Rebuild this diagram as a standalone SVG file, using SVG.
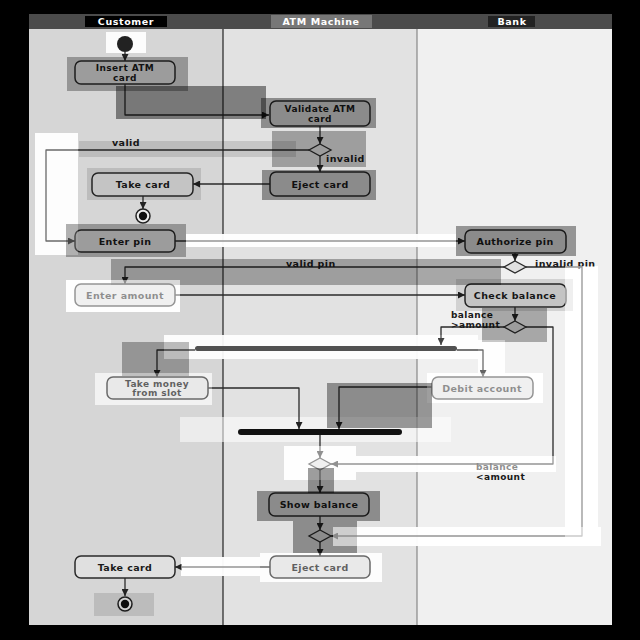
<svg xmlns="http://www.w3.org/2000/svg" width="640" height="640" viewBox="0 0 640 640">
<style>
.node rect{fill:#e0e0e0;stroke:#2a2a2a;stroke-width:1.5}
.node text,.lbl{font-family:"DejaVu Sans",sans-serif;font-weight:bold;font-size:9.5px;fill:#1a1a1a;letter-spacing:0.4px}
.node text.two,.lbl.two{font-size:9px}
.node text{text-anchor:middle}
.hdr{font-family:"DejaVu Sans",sans-serif;font-weight:bold;font-size:9.5px;fill:#fff;text-anchor:middle;letter-spacing:0.6px}
.dia{fill:#e0e0e0;stroke:#2a2a2a;stroke-width:1.3}
#connectors path{fill:none;stroke:#2a2a2a;stroke-width:1.3;stroke-linejoin:round}
.k1{fill:#000;opacity:0.3}
.k2{fill:#000;opacity:0.38}
.k3{fill:#000;opacity:0.44}
.kl{fill:#000;opacity:0.12}
.wb{fill:#fff;opacity:0.92}
.wb2{fill:#fff;opacity:0.55}
.wo{fill:#fff;opacity:0.5}
.wo2{fill:#fff;opacity:0.3}
.wo3{fill:#fff;opacity:0.15}
</style>
<defs>
<marker id="arr" viewBox="0 0 10 10" refX="10" refY="5" markerWidth="8" markerHeight="7" markerUnits="userSpaceOnUse" orient="auto">
<path d="M0,0 L10,5 L0,10 z" fill="#222"/>
</marker>
</defs>
<rect x="0" y="0" width="640" height="640" fill="#000"/>
<g id="lanes">
<rect x="29" y="14" width="583" height="611" fill="#f0f0f0"/>
<rect x="29" y="29" width="194" height="596" fill="#d6d6d6"/>
<rect x="223" y="29" width="194" height="596" fill="#e2e2e2"/>
<rect x="417" y="29" width="195" height="596" fill="#f0f0f0"/>
<rect x="29" y="14" width="583" height="15" fill="#4b4b4b"/>
<rect x="85" y="16" width="82" height="11" fill="#000"/>
<rect x="271" y="15" width="101" height="13" fill="#777"/>
<rect x="488" y="16" width="47" height="11" fill="#222"/>
<line x1="223" y1="29" x2="223" y2="625" stroke="#222" stroke-width="1.2"/>
<line x1="417" y1="29" x2="417" y2="625" stroke="#888" stroke-width="1.2"/>
<text class="hdr" x="126" y="25">Customer</text>
<text class="hdr" x="321" y="25">ATM Machine</text>
<text class="hdr" x="512" y="25">Bank</text>
</g>
<g id="bg-patches">
<rect class="wb" x="106" y="32" width="40" height="21"/>
<rect class="wb" x="35" y="133" width="43" height="122"/>
<rect class="wb" x="186" y="234" width="270" height="13"/>
<rect class="wb" x="66" y="280" width="114" height="32"/>
<rect class="wb" x="565" y="266" width="33" height="279"/>
<rect class="wb" x="164" y="335" width="314" height="24"/>
<rect class="wb" x="478" y="340" width="27" height="33"/>
<rect class="wb2" x="95" y="373" width="117" height="32"/>
<rect class="wb" x="427" y="373" width="116" height="30"/>
<rect class="wb2" x="180" y="417" width="271" height="25"/>
<rect class="wb" x="284" y="446" width="72" height="34"/>
<rect class="wb" x="356" y="456" width="200" height="16"/>
<rect class="wb" x="333" y="527" width="268" height="19"/>
<rect class="wb" x="260" y="553" width="122" height="29"/>
<rect class="wb" x="181" y="557" width="79" height="19"/>
</g>
<g id="connectors">
<path d="M125,52 V61" marker-end="url(#arr)"/>
<path d="M125,84 V115 H269" marker-end="url(#arr)"/>
<path d="M320,126 V144" marker-end="url(#arr)"/>
<path d="M309,150 H46 V241 H75" marker-end="url(#arr)"/>
<path d="M320,156 V172" marker-end="url(#arr)"/>
<path d="M270,184 H193" marker-end="url(#arr)"/>
<path d="M143,196 V209" marker-end="url(#arr)"/>
<path d="M175,241 H465" marker-end="url(#arr)"/>
<path d="M515,253 V261" marker-end="url(#arr)"/>
<path d="M504,267 H125 V284" marker-end="url(#arr)"/>
<path d="M526,267 H582 V536 H331" marker-end="url(#arr)"/>
<path d="M175,295 H465" marker-end="url(#arr)"/>
<path d="M515,307 V321" marker-end="url(#arr)"/>
<path d="M504,327 H441 V345" marker-end="url(#arr)"/>
<path d="M526,327 H553 V464 H331" marker-end="url(#arr)"/>
<path d="M195,350 H157 V377" marker-end="url(#arr)"/>
<path d="M457,350 H483 V377" marker-end="url(#arr)"/>
<path d="M208,388 H299 V429" marker-end="url(#arr)"/>
<path d="M432,387 H339 V429" marker-end="url(#arr)"/>
<path d="M320,435 V458" marker-end="url(#arr)"/>
<path d="M320,470 V493" marker-end="url(#arr)"/>
<path d="M320,516 V530" marker-end="url(#arr)"/>
<path d="M320,542 V556" marker-end="url(#arr)"/>
<path d="M270,567 H175" marker-end="url(#arr)"/>
<path d="M125,578 V596" marker-end="url(#arr)"/>
<text class="lbl" x="112" y="146">valid</text>
<text class="lbl" x="326" y="162">invalid</text>
<text class="lbl" x="286" y="266.5">valid pin</text>
<text class="lbl" x="535" y="266.5">invalid pin</text>
<text class="lbl two" x="451" y="318">balance</text>
<text class="lbl two" x="451" y="328">&gt;amount</text>
<text class="lbl two" x="476" y="470">balance</text>
<text class="lbl two" x="476" y="480">&lt;amount</text>
</g>
<g id="start"><circle cx="125" cy="44" r="8" fill="#222"/></g>
<g id="insert-card" class="node"><rect x="75" y="61" width="100" height="23" rx="6"/><text class="two" x="125" y="70.5">Insert ATM</text><text class="two" x="125" y="80.5">card</text></g>
<g id="validate-card" class="node"><rect x="270" y="101" width="100" height="25" rx="6"/><text class="two" x="320" y="111.5">Validate ATM</text><text class="two" x="320" y="121.5">card</text></g>
<g id="decision-card"><polygon class="dia" points="320,144 331,150 320,156 309,150"/></g>
<g id="eject-card-1" class="node"><rect x="270" y="172" width="100" height="24" rx="6"/><text x="320" y="187.5">Eject card</text></g>
<g id="take-card-1" class="node"><rect x="92" y="173" width="101" height="23" rx="6"/><text x="143" y="188">Take card</text></g>
<g id="end-1"><circle cx="143" cy="216" r="7" fill="#eee" stroke="#222" stroke-width="1.5"/><circle cx="143" cy="216" r="4.2" fill="#111"/></g>
<g id="enter-pin" class="node"><rect x="75" y="230" width="100" height="22" rx="6"/><text x="125" y="244.5">Enter pin</text></g>
<g id="authorize-pin" class="node"><rect x="465" y="230" width="101" height="23" rx="6"/><text x="515" y="245">Authorize pin</text></g>
<g id="decision-pin"><polygon class="dia" points="515,261 526,267 515,273 504,267"/></g>
<g id="enter-amount" class="node"><rect x="75" y="284" width="100" height="22" rx="6"/><text x="125" y="298.5">Enter amount</text></g>
<g id="check-balance" class="node"><rect x="465" y="284" width="101" height="23" rx="6"/><text x="515" y="299">Check balance</text></g>
<g id="decision-balance"><polygon class="dia" points="515,321 526,327 515,333 504,327"/></g>
<g id="fork"><rect x="195" y="346" width="262" height="5" rx="2.5" fill="#333"/></g>
<g id="take-money" class="node"><rect x="107" y="377" width="101" height="22" rx="6"/><text class="two" x="157" y="386.5">Take money</text><text class="two" x="157" y="396">from slot</text></g>
<g id="debit-account" class="node"><rect x="432" y="377" width="101" height="22" rx="6"/><text x="482" y="391.5">Debit account</text></g>
<g id="join"><rect x="238" y="429" width="164" height="6" rx="3" fill="#111"/></g>
<g id="merge-balance"><polygon class="dia" points="320,458 331,464 320,470 309,464"/></g>
<g id="show-balance" class="node"><rect x="269" y="493" width="100" height="23" rx="6"/><text x="319" y="508">Show balance</text></g>
<g id="merge-final"><polygon class="dia" points="320,530 331,536 320,542 309,536"/></g>
<g id="eject-card-2" class="node"><rect x="270" y="556" width="100" height="22" rx="6"/><text x="320" y="570.5">Eject card</text></g>
<g id="take-card-2" class="node"><rect x="75" y="556" width="100" height="22" rx="6"/><text x="125" y="570.5">Take card</text></g>
<g id="end-2"><circle cx="125" cy="604" r="7" fill="#eee" stroke="#222" stroke-width="1.5"/><circle cx="125" cy="604" r="4.2" fill="#111"/></g>
<g id="patches">
<rect class="k1" x="67" y="57" width="121" height="34"/>
<rect class="k3" x="116" y="86" width="150" height="33"/>
<rect class="k2" x="261" y="98" width="115" height="30"/>
<rect class="kl" x="79" y="141" width="217" height="16"/>
<rect class="k1" x="272" y="131" width="94" height="36"/>
<rect class="wo2" x="35" y="133" width="43" height="122"/>
<rect class="k2" x="262" y="170" width="114" height="30"/>
<rect class="kl" x="87" y="168" width="114" height="32"/>
<rect class="k1" x="66" y="224" width="120" height="33"/>
<rect class="wo" x="186" y="234" width="270" height="13"/>
<rect class="k2" x="456" y="226" width="120" height="30"/>
<rect class="k1" x="111" y="259" width="390" height="26"/>
<rect class="wo" x="66" y="280" width="114" height="32"/>
<rect class="kl" x="456" y="279" width="117" height="32"/>
<rect class="k1" x="482" y="308" width="65" height="34"/>
<rect class="wo" x="565" y="266" width="33" height="279"/>
<rect class="k1" x="122" y="342" width="67" height="34"/>
<rect class="wo3" x="164" y="335" width="314" height="24"/>
<rect class="wo2" x="478" y="340" width="27" height="33"/>
<rect class="wo2" x="95" y="373" width="117" height="32"/>
<rect class="wo" x="427" y="373" width="116" height="30"/>
<rect class="k2" x="327" y="383" width="105" height="45"/>
<rect class="wo" x="284" y="446" width="72" height="34"/>
<rect class="wo" x="356" y="456" width="200" height="16"/>
<rect class="k2" x="308" y="468" width="26" height="25"/>
<rect class="k2" x="257" y="491" width="123" height="30"/>
<rect class="k2" x="293" y="521" width="64" height="32"/>
<rect class="wo" x="333" y="527" width="268" height="19"/>
<rect class="wo2" x="260" y="553" width="122" height="29"/>
<rect class="wo" x="181" y="557" width="79" height="19"/>
<rect class="kl" x="94" y="593" width="60" height="23"/>
</g>
</svg>
